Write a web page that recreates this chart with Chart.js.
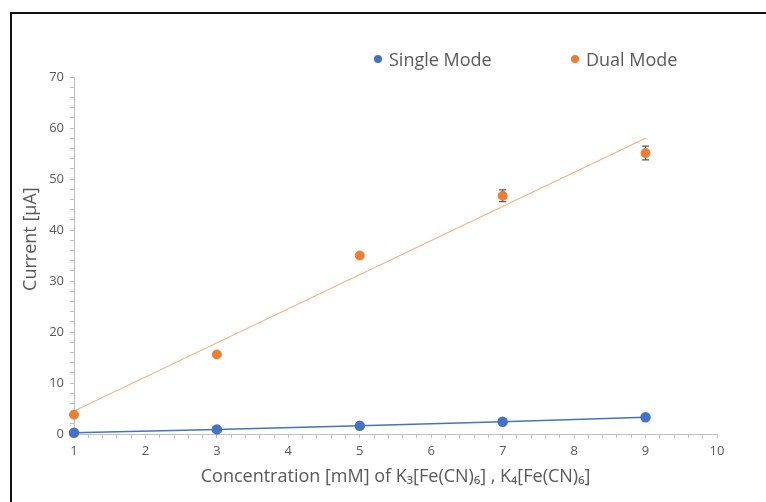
<!DOCTYPE html>
<html>
<head>
<meta charset="utf-8">
<script src="https://cdn.jsdelivr.net/npm/chart.js@4"></script>
<style>
  body { margin: 0; background: #fff; }
  #wrap { position: relative; width: 766px; height: 502px; overflow: hidden; }
  #frame { position: absolute; left: 10px; top: 12px; width: 800px; height: 600px;
           border-left: 2px solid #111; border-top: 2px solid #111; }
  #chart { position: absolute; left: 0; top: 0; }
  .leg { position: absolute; top: 47px; font: 18px 'Open Sans', sans-serif; color: #595959; }
  .leg i { display: inline-block; width: 8px; height: 8px; border-radius: 50%;
           margin-right: 7px; vertical-align: 3px; }
</style>
</head>
<body>
<div id="wrap">
  <div id="frame"></div>
  <canvas id="chart" width="766" height="502"></canvas>
  <div class="leg" id="leg0" style="left:374px"></div>
  <div class="leg" id="leg1" style="left:571px"></div>
</div>
<script>
// --------- DATA ----------
const concentrations = [1, 3, 5, 7, 9];
const singleMode = [0.25, 0.9, 1.6, 2.4, 3.3];
const dualMode = [3.8, 15.6, 35.0, 46.7, 55.1];
const dualError = [0, 0, 0, 1.15, 1.35];
// trend line endpoints
const dualTrendX = [1, 9];
const dualTrendY = [4.5, 58.0];

const blue = '#4472c4';
const orange = '#ed7d31';
const gray = '#595959';
const font = "'Open Sans', 'DejaVu Sans', sans-serif";

const pts = (xs, ys) => xs.map((x, i) => ({ x: x, y: ys[i] }));

// ---------- error bars plugin ----------
const errorBars = {
    id: 'errorBars',
    beforeDatasetsDraw(chart) {
        const { ctx, scales: { x, y } } = chart;
        ctx.save();
        ctx.strokeStyle = gray;
        ctx.lineWidth = 1.2;
        concentrations.forEach((c, i) => {
            if (!dualError[i]) return;
            const px = x.getPixelForValue(c);
            const top = y.getPixelForValue(dualMode[i] + dualError[i]);
            const bot = y.getPixelForValue(dualMode[i] - dualError[i]);
            ctx.beginPath();
            ctx.moveTo(px, top); ctx.lineTo(px, bot);
            ctx.moveTo(px - 3.5, top); ctx.lineTo(px + 3.5, top);
            ctx.moveTo(px - 3.5, bot); ctx.lineTo(px + 3.5, bot);
            ctx.stroke();
        });
        ctx.restore();
    }
};

const isInt = v => Math.abs(v - Math.round(v)) < 1e-6;

const chart = new Chart(document.getElementById('chart').getContext('2d'), {
    type: 'scatter',
    data: {
        datasets: [{
            label: 'Single Mode',
            data: pts(concentrations, singleMode),
            showLine: true,
            borderColor: blue,
            backgroundColor: blue,
            borderWidth: 1.5,
            pointRadius: 4.5,
            pointHoverRadius: 4.5,
            clip: false,
            order: 1
        }, {
            label: 'Dual Mode',
            data: pts(concentrations, dualMode),
            borderColor: orange,
            backgroundColor: orange,
            pointRadius: 4.5,
            pointHoverRadius: 4.5,
            clip: false,
            order: 0
        }, {
            label: 'Dual trend',
            data: pts(dualTrendX, dualTrendY),
            showLine: true,
            borderColor: '#f4b183',
            borderWidth: 1.2,
            pointRadius: 0,
            order: 2
        }]
    },
    options: {
        responsive: false,
        animation: false,
        events: [],
        layout: { padding: { left: 0, right: 49, top: 77, bottom: 0 } },
        plugins: { legend: { display: false }, tooltip: { enabled: false } },
        scales: {
            x: {
                type: 'linear',
                min: 1, max: 10,
                afterFit: s => { s.height = 68; },
                border: { display: true, color: '#bfbfbf', width: 1 },
                grid: { drawOnChartArea: false, drawTicks: true, tickLength: 4, color: '#bfbfbf' },
                ticks: {
                    stepSize: 0.2, autoSkip: false, maxRotation: 0, padding: 5,
                    color: gray, font: { family: font, size: 13 },
                    callback: v => isInt(v) ? String(Math.round(v)) : ''
                },
                title: {
                    display: true,
                    text: 'Concentration [mM] of K\u2083[Fe(CN)\u2086] , K\u2084[Fe(CN)\u2086]',
                    color: gray, font: { family: font, size: 18 },
                    padding: { top: 0, bottom: 14 }
                }
            },
            y: {
                min: 0, max: 70,
                afterFit: s => { s.width = 74; },
                border: { display: true, color: '#bfbfbf', width: 1 },
                grid: { drawOnChartArea: false, drawTicks: true, tickLength: 4, color: '#bfbfbf' },
                ticks: {
                    stepSize: 2, autoSkip: false, padding: 6,
                    color: gray, font: { family: font, size: 13 },
                    callback: v => (Math.round(v) % 10 === 0) ? String(Math.round(v)) : ''
                },
                title: {
                    display: true,
                    text: '       Current [\u00b5A]',
                    color: gray, font: { family: font, size: 18 },
                    padding: { top: 20, bottom: 0 }
                }
            }
        }
    },
    plugins: [errorBars]
});

// ---------- legend (first two datasets) ----------
[0, 1].forEach(i => {
    const ds = chart.data.datasets[i];
    document.getElementById('leg' + i).innerHTML =
        '<i style="background:' + ds.backgroundColor + '"></i>' + ds.label;
});
</script>
</body>
</html>
